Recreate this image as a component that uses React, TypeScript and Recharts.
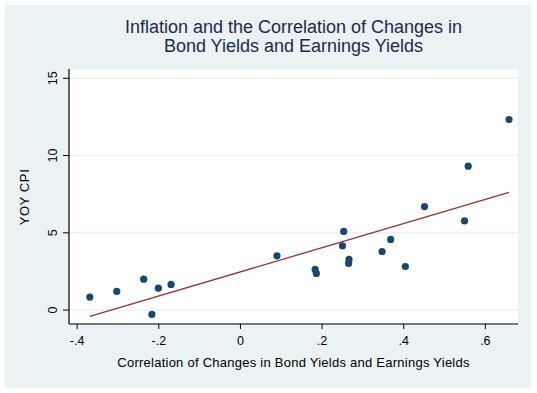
import React from 'react';
import { ScatterChart, Scatter, XAxis, YAxis, CartesianGrid } from 'recharts';

const corrValues = [-0.369, -0.303, -0.237, -0.217, -0.201, -0.17, 0.0895, 0.183, 0.186, 0.25, 0.253, 0.265, 0.266, 0.347, 0.368, 0.404, 0.451, 0.549, 0.558, 0.658];
const cpiValues = [0.84, 1.21, 2.0, -0.28, 1.42, 1.66, 3.51, 2.63, 2.37, 4.16, 5.09, 3.02, 3.28, 3.79, 4.57, 2.82, 6.7, 5.77, 9.31, 12.33];
const fitX = [-0.369, 0.658];
const fitY = [-0.41, 7.62];
const xTicks = [-0.4, -0.2, 0, 0.2, 0.4, 0.6];
const yTicks = [0, 5, 10, 15];

const points = corrValues.map((x, i) => ({ x, y: cpiValues[i] }));
const fitLine = fitX.map((x, i) => ({ x, y: fitY[i] }));

const FONT = '"Liberation Sans", Arial, sans-serif';

const fmtX = (v: number) => (v === 0 ? '0' : String(v).replace('0.', '.'));

const YTick = (props: any) => {
  const { x, y, payload } = props;
  return (
    <text
      x={x}
      y={y}
      transform={`rotate(-90 ${x} ${y})`}
      textAnchor="middle"
      fontSize={12.5}
      fontFamily={FONT}
      fill="#000"
    >
      {payload.value}
    </text>
  );
};

const Dot = (props: any) => {
  const { cx, cy } = props;
  return <circle cx={cx} cy={cy} r={3.6} fill="#1a476f" />;
};

const App: React.FC = () => {
  return (
    <div style={{ position: 'absolute', left: 0, top: 0, width: 537, height: 393, background: '#fff' }}>
      <div style={{ position: 'absolute', left: 5, top: 5, width: 526, height: 383, background: '#eaf2f3' }} />
      <div
        style={{
          position: 'absolute',
          left: 69,
          width: 449,
          top: 18,
          textAlign: 'center',
          fontFamily: FONT,
          fontSize: 18,
          lineHeight: '19px',
          color: '#1c2b4b',
        }}
      >
        Inflation and the Correlation of Changes in
        <br />
        Bond Yields and Earnings Yields
      </div>
      <div style={{ position: 'absolute', left: 0, top: 0 }}>
        <ScatterChart width={537} height={393} margin={{ top: 69, right: 19, bottom: 24, left: 29 }}>
          <CartesianGrid vertical={false} stroke="#eaf2f3" strokeWidth={1.5} fill="#fff" />
          <XAxis
            type="number"
            dataKey="x"
            domain={[-0.42, 0.68]}
            ticks={xTicks}
            tickFormatter={fmtX}
            height={45}
            tickSize={5}
            tickMargin={7}
            axisLine={{ stroke: '#000', strokeWidth: 1.2 }}
            tickLine={{ stroke: '#000' }}
            tick={{ fill: '#000', fontSize: 12.5, fontFamily: FONT }}
            allowDataOverflow
            label={{
              value: 'Correlation of Changes in Bond Yields and Earnings Yields',
              position: 'insideBottom',
              offset: 2,
              fill: '#000',
              fontSize: 13,
              fontFamily: FONT,
              style: { letterSpacing: '0.25px' },
            }}
          />
          <YAxis
            type="number"
            dataKey="y"
            domain={[-0.9, 15.6]}
            ticks={yTicks}
            width={40}
            tickSize={6}
            tickMargin={6}
            axisLine={{ stroke: '#000', strokeWidth: 1.2 }}
            tickLine={{ stroke: '#000' }}
            tick={<YTick />}
            allowDataOverflow
            label={() => (
              <text
                x={29}
                y={197}
                transform="rotate(-90 29 197)"
                textAnchor="middle"
                fontSize={13}
                fontFamily={FONT}
                fill="#000"
                style={{ letterSpacing: '0.6px' }}
              >
                YOY CPI
              </text>
            )}
          />
          <Scatter data={points} shape={<Dot />} isAnimationActive={false} />
          <Scatter
            data={fitLine}
            line={{ stroke: '#90353b', strokeWidth: 1.3 }}
            shape={() => null}
            isAnimationActive={false}
          />
        </ScatterChart>
      </div>
    </div>
  );
};

export default App;
